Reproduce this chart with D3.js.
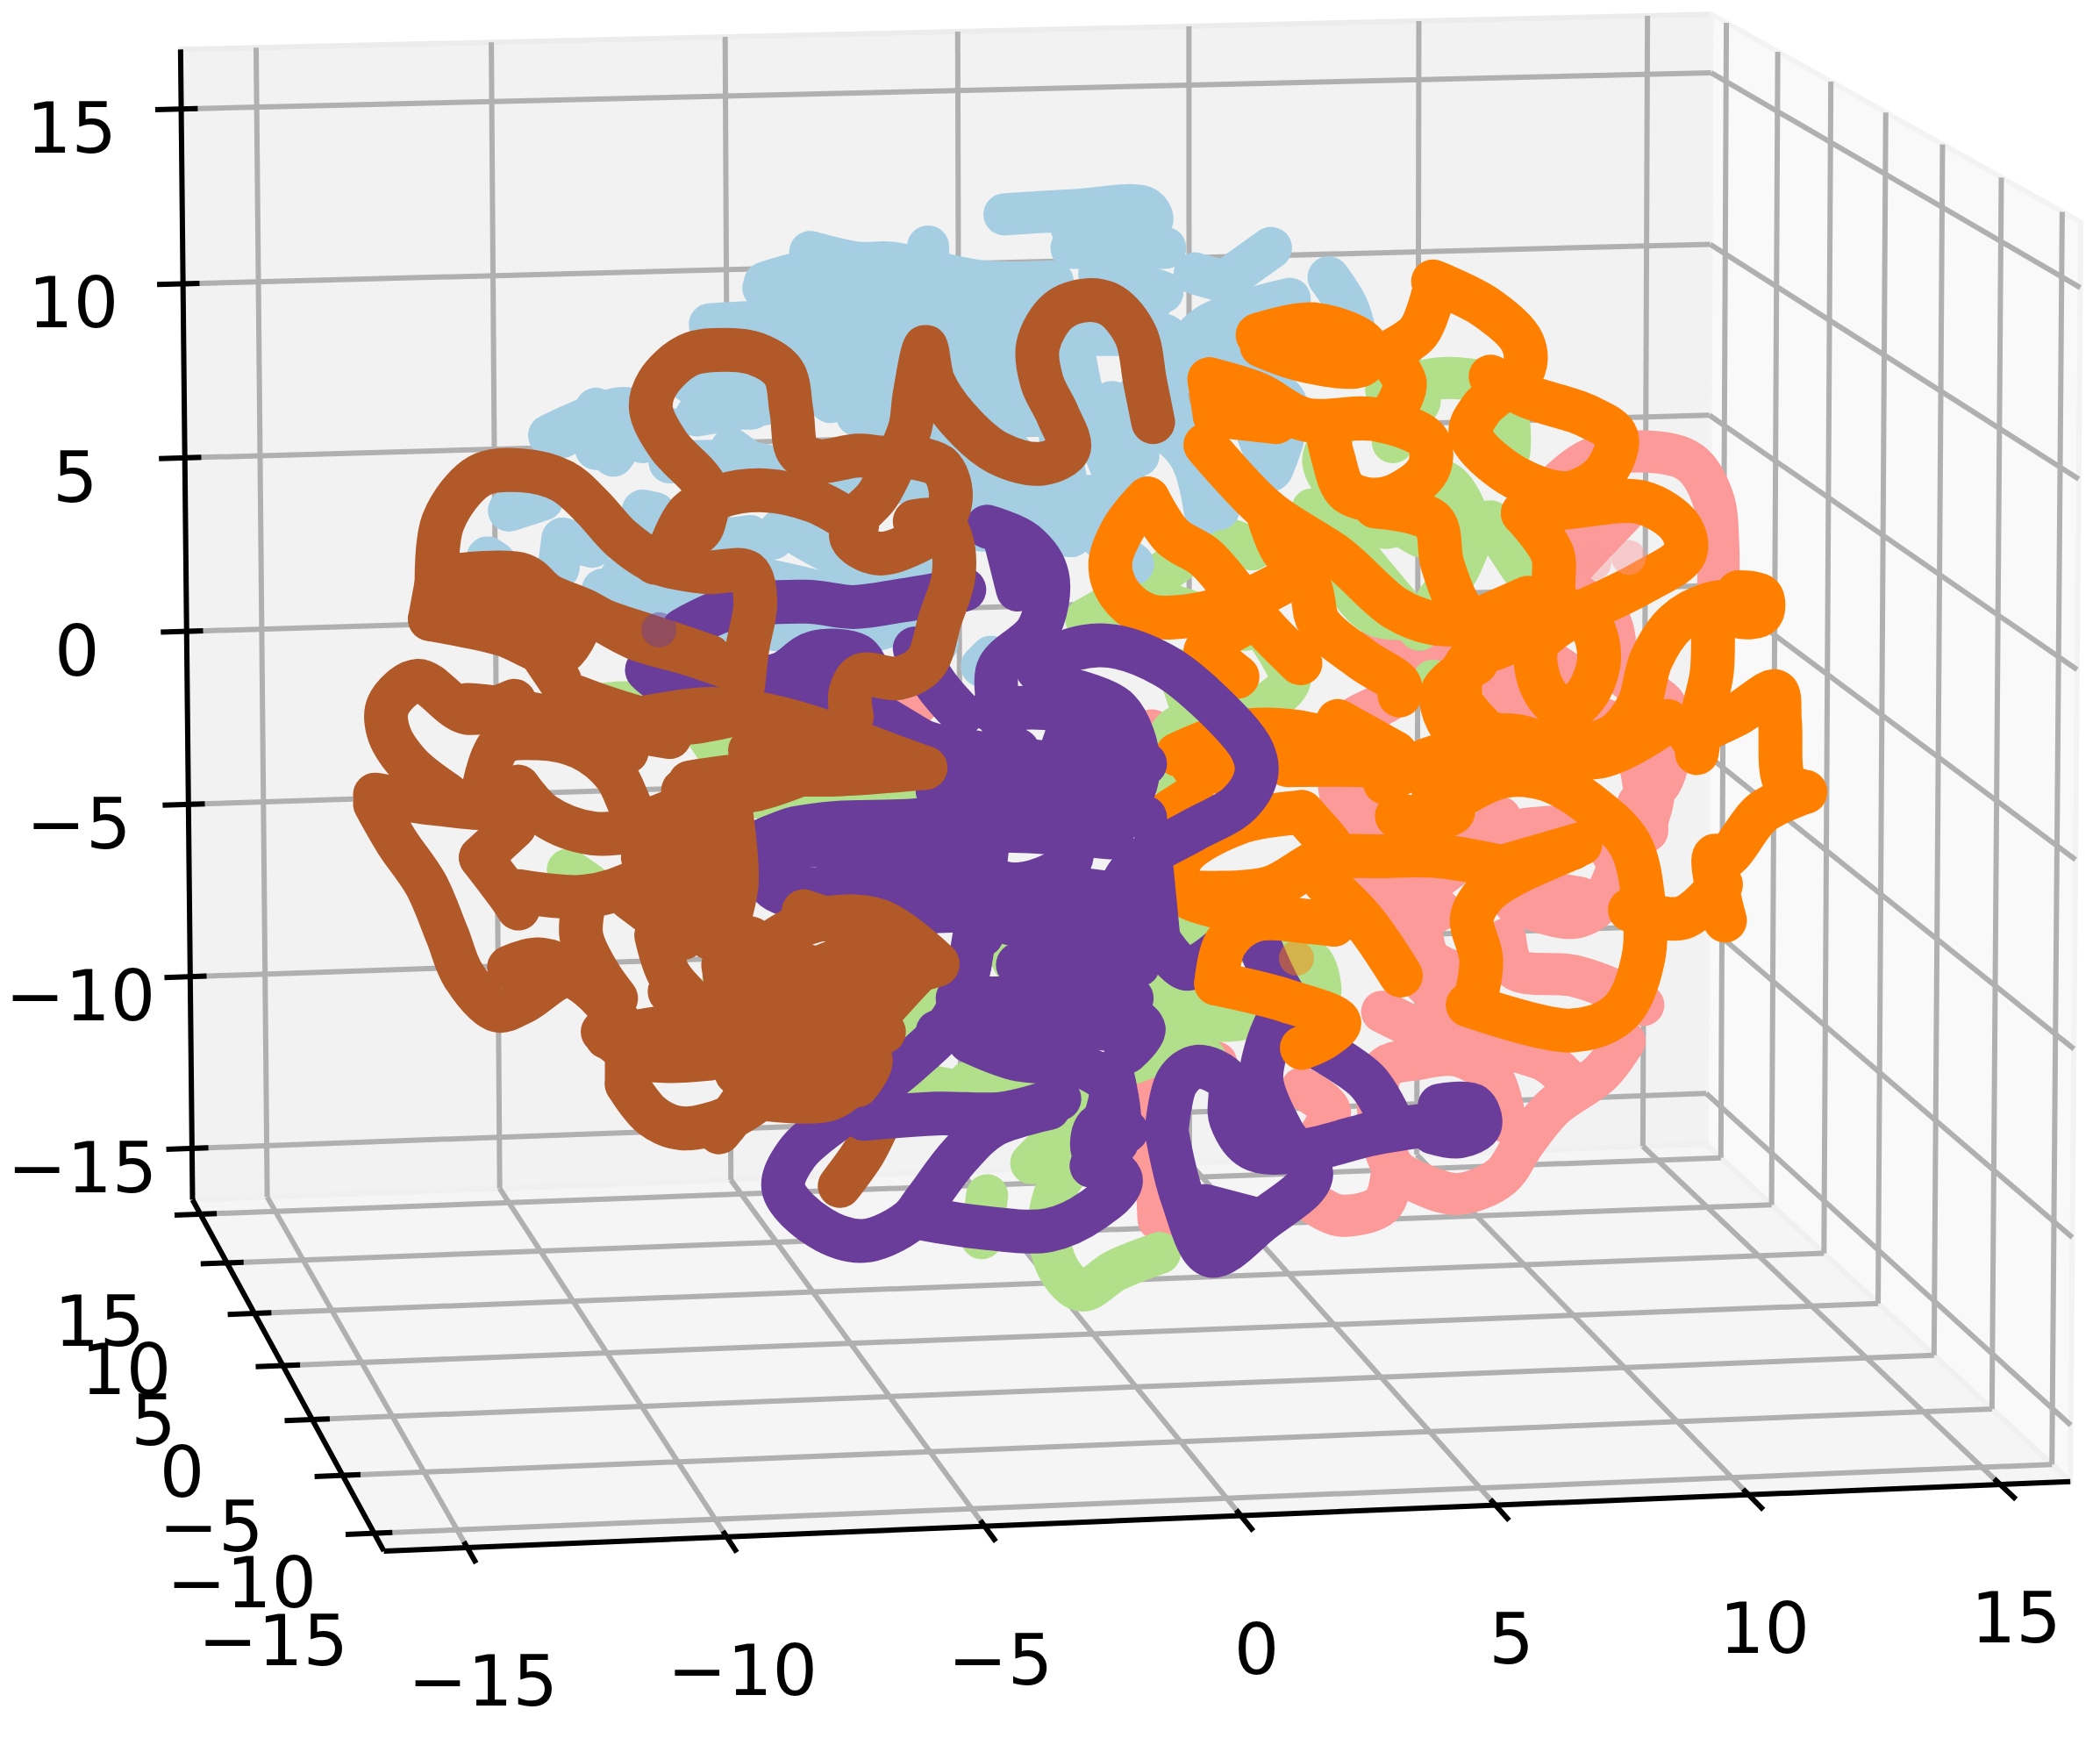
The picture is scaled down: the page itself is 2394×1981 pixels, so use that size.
<!DOCTYPE html>
<html>
<head>
<meta charset="utf-8">
<script src="https://d3js.org/d3.v7.min.js"></script>
<style>
  html, body { margin: 0; background: #fff; }
  text { font-family: "DejaVu Sans", sans-serif; font-size: 81px; fill: #000; }
</style>
</head>
<body>
<svg id="chart" width="2394" height="1981"></svg>
<script>
// tick values, same on all three axes
const xTicks = [-15, -10, -5, 0, 5, 10, 15];
const yTicks = [-15, -10, -5, 0, 5, 10, 15];
const zTicks = [-15, -10, -5, 0, 5, 10, 15];
const xLim = [-16.6, 16.4];
const yLim = [-16.5, 16.5];
const zLim = [-16.5, 16.7];

// box corners and where they land on the page, used to fit the camera
const boxCorners = [[0,0,0],[1,0,0],[1,1,0],[0,1,0],[0,1,1],[1,1,1],[1,0,1]];
const boxOnPage = [[438,1770],[2359,1687],[1946,1306],[219,1365],[206,57],[1950,16],[2373,253]];

// traces, in the viewing plane (reference units 0-1568 / 0-1297)
const pink = [
  [[1162,362],[1187,343],[1230,337],[1262,345],[1279,372],[1283,408],[1283,435]],
  [[1212,383],[1176,421],[1155,446]],
  [[1195,370],[1160,410]],
  [[1176,443],[1201,462],[1212,503],[1244,527],[1247,557],[1240,584],[1223,600],[1234,592],[1227,620],[1209,647],[1195,674],[1174,685],[1131,674]],
  [[1123,516],[1134,533],[1169,530],[1201,538]],
  [[1063,489],[1042,519],[1006,541],[999,571],[1003,600],[1007,592],[1018,609],[1046,687],[1075,679]],
  [[1050,480],[1100,480],[1150,490],[1180,510]],
  [[1030,480],[1100,500],[1170,510]],
  [[1180,530],[1220,560],[1230,620]],
  [[1130,620],[1190,620],[1210,650]],
  [[1120,660],[1180,670]],
  [[1020,620],[1060,660],[1120,610]],
  [[1000,620],[1060,720]],
  [[1060,730],[1100,770]],
  [[1060,685],[1067,715],[1085,725]],
  [[1124,701],[1131,723],[1174,728],[1206,739],[1227,750]],
  [[1032,755],[1075,774],[1121,782],[1156,793],[1174,810]],
  [[1213,777],[1195,801],[1160,826],[1138,853],[1121,878],[1089,891],[1060,883],[1039,869],[1032,799],[1060,790],[1089,788],[1114,804],[1124,837]],
  [[1039,878],[1032,899],[1000,907],[975,894]],
  [[865,910],[862,864],[855,823],[876,796],[908,793]],
  [[972,812],[993,829],[979,856]],
  [[680,530],[690,520]],
  [[860,545],[880,560]]
];
const green = [
  [[1035,291],[1081,282],[1120,291],[1127,318],[1127,337]],
  [[999,318],[988,345],[1006,372],[1035,394],[1077,359],[1098,394],[1091,421],[1073,448]],
  [[1010,370],[1060,400]],
  [[1040,330],[1060,300]],
  [[980,380],[1000,430]],
  [[1010,410],[1060,470]],
  [[1113,389],[1136,424]],
  [[1006,400],[1006,435],[1027,459],[1049,462]],
  [[935,410],[910,402],[857,435],[811,462]],
  [[870,450],[930,470]],
  [[880,500],[900,560]],
  [[928,449],[956,489],[963,508],[942,527],[907,535],[875,546],[871,576],[889,592]],
  [[1070,508],[1075,510]],
  [[883,685],[901,696],[979,717],[986,739]],
  [[880,730],[930,750],[965,740]],
  [[860,770],[900,790]],
  [[851,728],[872,750],[890,761],[925,761]],
  [[876,782],[847,793]],
  [[866,727],[883,753]],
  [[866,935],[833,948],[808,963],[791,948],[783,916],[791,883],[808,863]],
  [[737,892],[733,924]],
  [[770,868],[808,829]],
  [[724,807],[766,807]],
  [[749,703],[758,720]],
  [[662,779],[687,753]],
  [[687,809],[719,815]],
  [[453,525],[480,525],[520,540],[562,593],[625,597],[700,597]],
  [[719,640],[625,634]],
  [[525,630],[545,700],[540,730]],
  [[424,649],[440,660]],
  [[650,780],[700,740]]
];
const blue = [
  [[750,160],[800,157],[855,155],[860,165],[800,170]],
  [[605,188],[640,196],[665,196],[693,202],[733,210],[786,210]],
  [[693,184],[693,190]],
  [[571,211],[608,202],[640,205]],
  [[621,223],[640,253],[640,294]],
  [[530,242],[571,240],[608,240]],
  [[702,223],[746,240],[746,267],[733,294],[743,321],[765,354],[765,402]],
  [[530,305],[561,305]],
  [[546,335],[560,345]],
  [[420,326],[445,316],[464,326],[458,340]],
  [[445,305],[445,316]],
  [[410,325],[470,305],[480,330]],
  [[445,335],[500,320]],
  [[380,381],[405,373]],
  [[480,381],[489,383]],
  [[420,402],[417,424]],
  [[442,408],[420,402]],
  [[364,416],[370,420]],
  [[464,430],[467,441],[514,443],[545,440]],
  [[480,410],[560,400]],
  [[450,440],[530,470]],
  [[510,455],[570,470]],
  [[577,402],[592,389],[615,392]],
  [[702,375],[749,362],[786,375]],
  [[577,470],[640,473],[671,465]],
  [[733,497],[740,490]],
  [[992,207],[1006,229],[1013,253]],
  [[963,223],[903,242],[882,264],[871,291],[878,318],[893,351],[900,383]],
  [[880,260],[940,250],[1000,240]],
  [[900,270],[960,300],[950,350]],
  [[949,351],[935,313]],
  [[914,210],[949,185]],
  [[892,204],[914,210]],
  [[857,223],[821,204],[868,218]],
  [[790,286],[793,340],[804,381],[846,421]],
  [[800,250],[810,300],[830,350],[840,380]],
  [[650,230],[700,260],[720,300],[700,340]],
  [[600,260],[620,300]],
  [[880,280],[845,300],[850,340]],
  [[570,215],[640,215],[720,225],[800,225],[860,225]],
  [[610,250],[700,250],[790,250],[870,250]],
  [[620,280],[720,280],[790,285]],
  [[640,310],[780,310]],
  [[655,345],[790,350]],
  [[700,370],[850,370]],
  [[720,395],[800,400]],
  [[515,285],[570,290]],
  [[520,310],[580,300]],
  [[500,345],[560,345],[620,360],[680,360]],
  [[590,395],[640,420],[700,420]],
  [[560,430],[640,450],[700,480]],
  [[830,300],[880,330],[910,380]],
  [[800,185],[870,185]]
];
const orangeBack = [
  [[1070,210],[1109,229],[1137,256],[1137,277],[1106,305],[1098,324],[1123,351],[1159,367],[1176,367],[1198,353],[1207,326],[1184,310],[1141,296],[1113,281]],
  [[1070,220],[1059,248],[1035,264]],
  [[939,250],[981,242],[1020,258],[1017,272],[974,269],[942,258]],
  [[945,250],[1010,262]],
  [[1035,264],[1049,286],[1042,305]],
  [[903,283],[939,294],[974,313],[1027,313],[1066,329],[1066,351],[1035,372],[1006,367],[995,340],[990,315]],
  [[907,310],[953,315]],
  [[903,283],[907,310]],
  [[905,290],[960,310]],
  [[1027,378],[1070,389],[1077,421],[1091,454],[1106,465]],
  [[900,332],[946,381],[999,416],[1042,454],[1070,465],[1106,465]],
  [[946,381],[956,408],[978,438],[985,465],[1017,492],[1045,511],[1045,519]],
  [[857,372],[875,400],[900,416],[921,440],[946,470],[971,495]],
  [[857,372],[839,394],[829,421],[836,443],[857,459],[892,459],[935,446],[971,427]],
  [[900,486],[924,505]],
  [[910,476],[935,462]],
  [[1137,383],[1176,378],[1226,375],[1255,394],[1258,413],[1226,435],[1176,459],[1123,481],[1095,495],[1091,522],[1105,541]],
  [[1137,383],[1159,413],[1162,448],[1187,465],[1194,492],[1184,519],[1169,530],[1152,514],[1148,481],[1176,459]],
  [[1098,465],[1141,446]],
  [[1308,448],[1276,451],[1251,465],[1233,492],[1223,527],[1205,549],[1176,557],[1134,552],[1098,543]],
  [[1298,442],[1315,445],[1315,458],[1298,460],[1285,450]],
  [[1279,476],[1278,503],[1272,530],[1267,562]],
  [[1262,549],[1297,533],[1326,516],[1329,538],[1333,584],[1348,591]],
  [[1348,591],[1316,606],[1288,640],[1280,639],[1288,687]],
  [[1217,679],[1256,685],[1285,660]],
  [[1096,750],[1174,769],[1210,755],[1227,715],[1227,671],[1217,630],[1188,601],[1156,582],[1124,579],[1089,595],[1064,617],[1046,611]],
  [[1121,647],[1075,639],[1032,639],[989,641],[947,663],[890,666]],
  [[989,658],[1018,687],[1046,728]],
  [[879,563],[925,546],[968,546],[1011,557],[1039,565]],
  [[961,571],[1014,571],[1046,573]],
  [[908,576],[890,571]],
  [[972,606],[925,614],[883,639],[879,663],[918,679],[996,690]],
  [[865,611],[890,595]],
  [[1043,609],[1085,606],[1067,579],[1121,549],[1192,565],[1245,538]],
  [[1102,495],[1077,516],[1081,538],[1098,554],[1063,568],[1034,584]],
  [[999,538],[1042,562]],
  [[972,606],[989,625],[993,630]]
];
const orangeFront = [
  [[1096,750],[1099,750],[1106,717],[1099,685],[1110,666],[1131,652],[1174,633]],
  [[1180,630],[1121,647]],
  [[908,734],[961,747],[1000,763],[989,774],[972,782]],
  [[908,734],[915,704],[936,687],[996,690]]
];
const purple = [
  [[510,470],[545,454],[602,449],[637,453],[674,448],[720,440]],
  [[737,393],[765,405],[782,430],[775,470],[745,500],[750,545]],
  [[750,400],[760,440]],
  [[483,500],[499,511],[546,508],[583,503],[608,487],[640,489],[649,503]],
  [[683,484],[699,511],[718,533]],
  [[775,500],[800,485],[829,482],[870,497],[905,525],[935,560],[938,578],[925,600],[890,620],[855,640],[838,660],[835,690]],
  [[800,515],[835,530],[850,570],[840,600],[810,610],[790,580],[800,540]],
  [[525,611],[550,631],[594,618],[625,614],[687,612],[770,600],[820,600]],
  [[562,640],[578,663],[594,669]],
  [[625,652],[687,646],[731,655]],
  [[575,625],[656,632],[719,620]],
  [[562,514],[625,517],[669,546],[719,564],[740,581]],
  [[560,630],[650,630],[740,620],[830,625]],
  [[580,660],[680,670],[760,660],[850,670]],
  [[740,530],[790,530],[840,560]],
  [[720,560],[790,570],[855,570]],
  [[700,590],[800,600],[855,610]],
  [[650,530],[700,560]],
  [[720,680],[800,700],[860,710]],
  [[760,720],[850,720]],
  [[715,745],[790,745],[845,745]],
  [[700,770],[740,760],[840,770]],
  [[865,701],[886,723],[911,709]],
  [[840,687],[826,712]],
  [[860,650],[865,701]],
  [[724,720],[712,759],[678,794],[633,829],[595,861],[585,887],[612,916],[645,926],[679,911],[691,896],[716,863],[741,840],[783,827]],
  [[645,835],[699,831],[749,831],[791,820]],
  [[687,909],[733,916],[783,918],[816,903],[837,881],[816,859],[820,840],[841,844]],
  [[741,753],[783,746],[833,753],[854,768],[841,785]],
  [[724,777],[758,790],[808,796],[829,811],[825,835]],
  [[830,800],[835,850],[815,870]],
  [[791,707],[800,722],[825,735]],
  [[775,683],[816,692],[841,707],[858,698]],
  [[741,681],[733,698]],
  [[700,640],[760,660],[800,640],[780,600],[760,560]],
  [[640,690],[700,680],[741,681]],
  [[740,600],[735,650],[724,720]],
  [[871,844],[879,807],[894,796],[917,807],[919,835],[935,857],[971,859],[1025,846],[1084,837]],
  [[1075,825],[1100,825],[1105,840],[1090,848],[1070,845]],
  [[871,844],[883,894],[904,937],[942,911],[979,877],[958,846],[942,807],[946,781],[954,761]],
  [[900,900],[942,911]],
  [[983,781],[1021,807],[1038,835]],
  [[942,709],[958,742],[983,774]]
];
const brownBack = [
  [[627,885],[645,860],[655,840]]
];
const brown = [
  [[861,315],[855,285],[848,250],[830,228],[812,224],[790,232],[775,258],[778,285],[790,310],[798,335],[778,346],[745,338],[715,312],[697,285],[691,259],[683,294],[679,321],[668,340],[640,340],[611,344],[596,337],[591,307],[585,278],[564,264],[542,261],[514,265],[491,286],[486,305],[499,332],[527,364],[527,385]],
  [[671,340],[702,348],[710,370],[702,392],[683,405],[655,413],[636,402],[638,389],[655,370],[668,345]],
  [[683,389],[702,389],[710,402],[712,430],[702,462],[691,495],[671,506],[643,504],[635,517],[636,535]],
  [[640,392],[608,374],[571,366],[539,370],[514,383],[500,410]],
  [[326,435],[331,389],[358,355],[389,351],[420,359],[442,378],[464,402],[489,419],[527,427],[558,427],[564,449],[558,484],[555,511]],
  [[527,370],[524,394],[500,410],[489,420]],
  [[321,462],[374,473],[418,488],[437,456]],
  [[343,429],[390,429],[409,444],[437,456],[474,476],[515,488],[550,500]],
  [[326,435],[343,429]],
  [[321,462],[326,435]],
  [[387,462],[418,508]],
  [[325,450],[420,455],[470,470],[530,490]],
  [[384,523],[349,532],[312,508],[290,526],[290,546],[305,570],[334,593]],
  [[349,526],[390,532],[424,549],[468,561]],
  [[380,530],[440,540],[500,550]],
  [[430,520],[500,540],[560,530]],
  [[468,538],[531,529],[578,535],[625,549],[666,564],[691,573]],
  [[691,573],[625,578],[562,578],[515,584]],
  [[560,560],[640,560]],
  [[510,590],[560,590],[625,570],[680,570]],
  [[362,584],[374,555],[402,551],[434,558],[459,578],[474,608],[493,631],[515,666],[530,700]],
  [[280,593],[327,600],[374,602],[387,593]],
  [[387,587],[406,608],[443,622],[493,617]],
  [[280,600],[296,628],[318,660],[334,698],[346,728],[371,754],[390,748],[424,728],[449,745]],
  [[359,640],[381,669],[387,678]],
  [[359,640],[384,617]],
  [[387,665],[437,669],[480,655],[515,625]],
  [[380,722],[402,716],[427,725],[449,745],[468,771]],
  [[437,669],[434,698],[446,725],[460,745]],
  [[480,640],[510,680],[545,690]],
  [[545,600],[550,660],[540,700]],
  [[470,670],[510,700]],
  [[490,610],[515,600]],
  [[700,719],[656,687],[609,687],[568,710],[546,742]],
  [[625,728],[578,757],[500,766],[453,774]],
  [[688,722],[656,757],[625,795],[593,807],[550,801]],
  [[460,770],[530,770],[600,770],[650,790],[640,810]],
  [[450,770],[480,790],[530,790]],
  [[560,700],[600,720],[650,730],[700,720]],
  [[570,740],[640,760],[660,770]],
  [[560,790],[620,810]],
  [[590,790],[640,800],[620,820],[570,820]],
  [[660,740],[640,790],[610,810],[580,780],[620,750]],
  [[540,720],[550,780],[560,820]],
  [[500,740],[540,760]],
  [[600,680],[660,700]],
  [[468,809],[487,833],[509,842],[547,833],[578,812]],
  [[468,774],[468,809]],
  [[546,698],[562,771],[562,807],[537,845]],
  [[490,698],[500,728],[521,751]],
  [[650,710],[600,730],[590,770]],
  [[520,620],[530,680],[545,640]]
];
// a few half faded markers where the cloud thins out
const fadedPoints = [
  { u: 1216, v: 416, c: "#fb9a99" }, { u: 1190, v: 420, c: "#fb9a99" },
  { u: 968, v: 715, c: "#ff7f00" }, { u: 660, v: 225, c: "#a6cee3" },
  { u: 445, v: 305, c: "#a6cee3" }, { u: 492, v: 470, c: "#6a3d9a" }
];

const seriesOrder = [
  { strokes: pink, color: "#fb9a99", width: 48 },
  { strokes: green, color: "#b2df8a", width: 48 },
  { strokes: blue, color: "#a6cee3", width: 48 },
  { strokes: orangeBack, color: "#ff7f00", width: 50 },
  { strokes: brownBack, color: "#b15928", width: 50 },
  { strokes: purple, color: "#6a3d9a", width: 50 },
  { strokes: orangeFront, color: "#ff7f00", width: 50 },
  { strokes: brown, color: "#b15928", width: 50 }
];

const svg = d3.select("#chart");

// least squares fit of a 3x4 camera matrix to the box corners
function fitCamera(world, page) {
  const A = [], b = [];
  world.forEach((w, i) => {
    const [X, Y, Z] = w, [u, v] = page[i];
    A.push([X, Y, Z, 1, 0, 0, 0, 0, -u * X, -u * Y, -u * Z]); b.push(u);
    A.push([0, 0, 0, 0, X, Y, Z, 1, -v * X, -v * Y, -v * Z]); b.push(v);
  });
  const n = 11;
  const M = d3.range(n).map(i => {
    const row = d3.range(n).map(j => d3.sum(A, r => r[i] * r[j]));
    row.push(d3.sum(A, (r, k) => r[i] * b[k]));
    return row;
  });
  for (let i = 0; i < n; i++) {
    let p = i;
    for (let k = i + 1; k < n; k++) if (Math.abs(M[k][i]) > Math.abs(M[p][i])) p = k;
    [M[i], M[p]] = [M[p], M[i]];
    for (let k = 0; k < n; k++) {
      if (k === i) continue;
      const f = M[k][i] / M[i][i];
      for (let j = i; j <= n; j++) M[k][j] -= f * M[i][j];
    }
  }
  return d3.range(n).map(i => M[i][n] / M[i][i]);
}

const cam = fitCamera(boxCorners, boxOnPage);
const xNorm = d3.scaleLinear().domain(xLim).range([0, 1]);
const yNorm = d3.scaleLinear().domain(yLim).range([0, 1]);
const zNorm = d3.scaleLinear().domain(zLim).range([0, 1]);

function project(x, y, z) {
  const X = xNorm(x), Y = yNorm(y), Z = zNorm(z);
  const w = cam[8] * X + cam[9] * Y + cam[10] * Z + 1;
  return [(cam[0] * X + cam[1] * Y + cam[2] * Z + cam[3]) / w,
          (cam[4] * X + cam[5] * Y + cam[6] * Z + cam[7]) / w];
}

const [x0, x1] = xLim, [y0, y1] = yLim, [z0, z1] = zLim;
const segment = d3.line();

// panes
const panes = [
  { pts: [[x0,y1,z0],[x1,y1,z0],[x1,y1,z1],[x0,y1,z1]], fill: "#f2f2f2", edge: "#ececec" },
  { pts: [[x1,y1,z0],[x1,y0,z0],[x1,y0,z1],[x1,y1,z1]], fill: "#f9f9f9", edge: "#f3f3f3" },
  { pts: [[x0,y0,z0],[x1,y0,z0],[x1,y1,z0],[x0,y1,z0]], fill: "#f5f5f5", edge: "#f0f0f0" }
];
svg.append("g").selectAll("path")
  .data(panes)
  .join("path")
  .attr("d", d => segment(d.pts.map(p => project(...p))) + "Z")
  .attr("fill", d => d.fill)
  .attr("stroke", d => d.edge)
  .attr("stroke-width", 6)
  .attr("stroke-linejoin", "round");

// grid lines
const gridLines = [];
xTicks.forEach(t => {
  gridLines.push([[t, y0, z0], [t, y1, z0]]);
  gridLines.push([[t, y1, z0], [t, y1, z1]]);
});
yTicks.forEach(t => {
  gridLines.push([[x0, t, z0], [x1, t, z0]]);
  gridLines.push([[x1, t, z0], [x1, t, z1]]);
});
zTicks.forEach(t => {
  gridLines.push([[x0, y1, t], [x1, y1, t]]);
  gridLines.push([[x1, y1, t], [x1, y0, t]]);
});
svg.append("g").selectAll("path")
  .data(gridLines)
  .join("path")
  .attr("d", d => segment(d.map(p => project(...p))))
  .attr("fill", "none")
  .attr("stroke", "#b0b0b0")
  .attr("stroke-width", 6);

// axis lines and tick marks
const axisLines = [
  [[x0, y0, z0], [x1, y0, z0]],
  [[x0, y0, z0], [x0, y1, z0]],
  [[x0, y1, z0], [x0, y1, z1]]
];
xTicks.forEach(t => axisLines.push([[t, y0 - 1.3, z0], [t, y0 + 0.5, z0]]));
yTicks.forEach(t => axisLines.push([[x0 - 0.55, t, z0], [x0 + 0.35, t, z0]]));
zTicks.forEach(t => axisLines.push([[x0 - 0.55, y1, t], [x0 + 0.35, y1, t]]));
svg.append("g").selectAll("path")
  .data(axisLines)
  .join("path")
  .attr("d", d => segment(d.map(p => project(...p))))
  .attr("fill", "none")
  .attr("stroke", "#000")
  .attr("stroke-width", 6);

// tick labels
const fmt = d => String(d).replace("-", "\u2212");
const labels = [
  ...xTicks.map(t => ({ t, at: project(t, y0, z0), dx: 18, dy: 152 })),
  ...yTicks.map(t => ({ t, at: project(x0, t, z0), dx: -115, dy: 122 })),
  ...zTicks.map(t => ({ t, at: project(x0, y1, t), dx: -125, dy: 22 }))
];
svg.append("g").selectAll("text")
  .data(labels)
  .join("text")
  .attr("x", d => d.at[0] + d.dx)
  .attr("y", d => d.at[1] + d.dy)
  .attr("text-anchor", "middle")
  .attr("dominant-baseline", "central")
  .text(d => fmt(d.t));

// traces
const uScale = d3.scaleLinear().domain([0, 1568]).range([0, 2394]);
const vScale = d3.scaleLinear().domain([0, 1297]).range([0, 1981]);
const trace = d3.line()
  .x(d => uScale(d[0]))
  .y(d => vScale(d[1]))
  .curve(d3.curveCatmullRom.alpha(0.5));

seriesOrder.forEach(s => {
  svg.append("g").selectAll("path")
    .data(s.strokes)
    .join("path")
    .attr("d", trace)
    .attr("fill", "none")
    .attr("stroke", s.color)
    .attr("stroke-width", s.width)
    .attr("stroke-linecap", "round")
    .attr("stroke-linejoin", "round");
});

svg.append("g").selectAll("circle")
  .data(fadedPoints)
  .join("circle")
  .attr("cx", d => uScale(d.u))
  .attr("cy", d => vScale(d.v))
  .attr("r", 20)
  .attr("fill", d => d.c)
  .attr("fill-opacity", 0.45);
</script>
</body>
</html>
